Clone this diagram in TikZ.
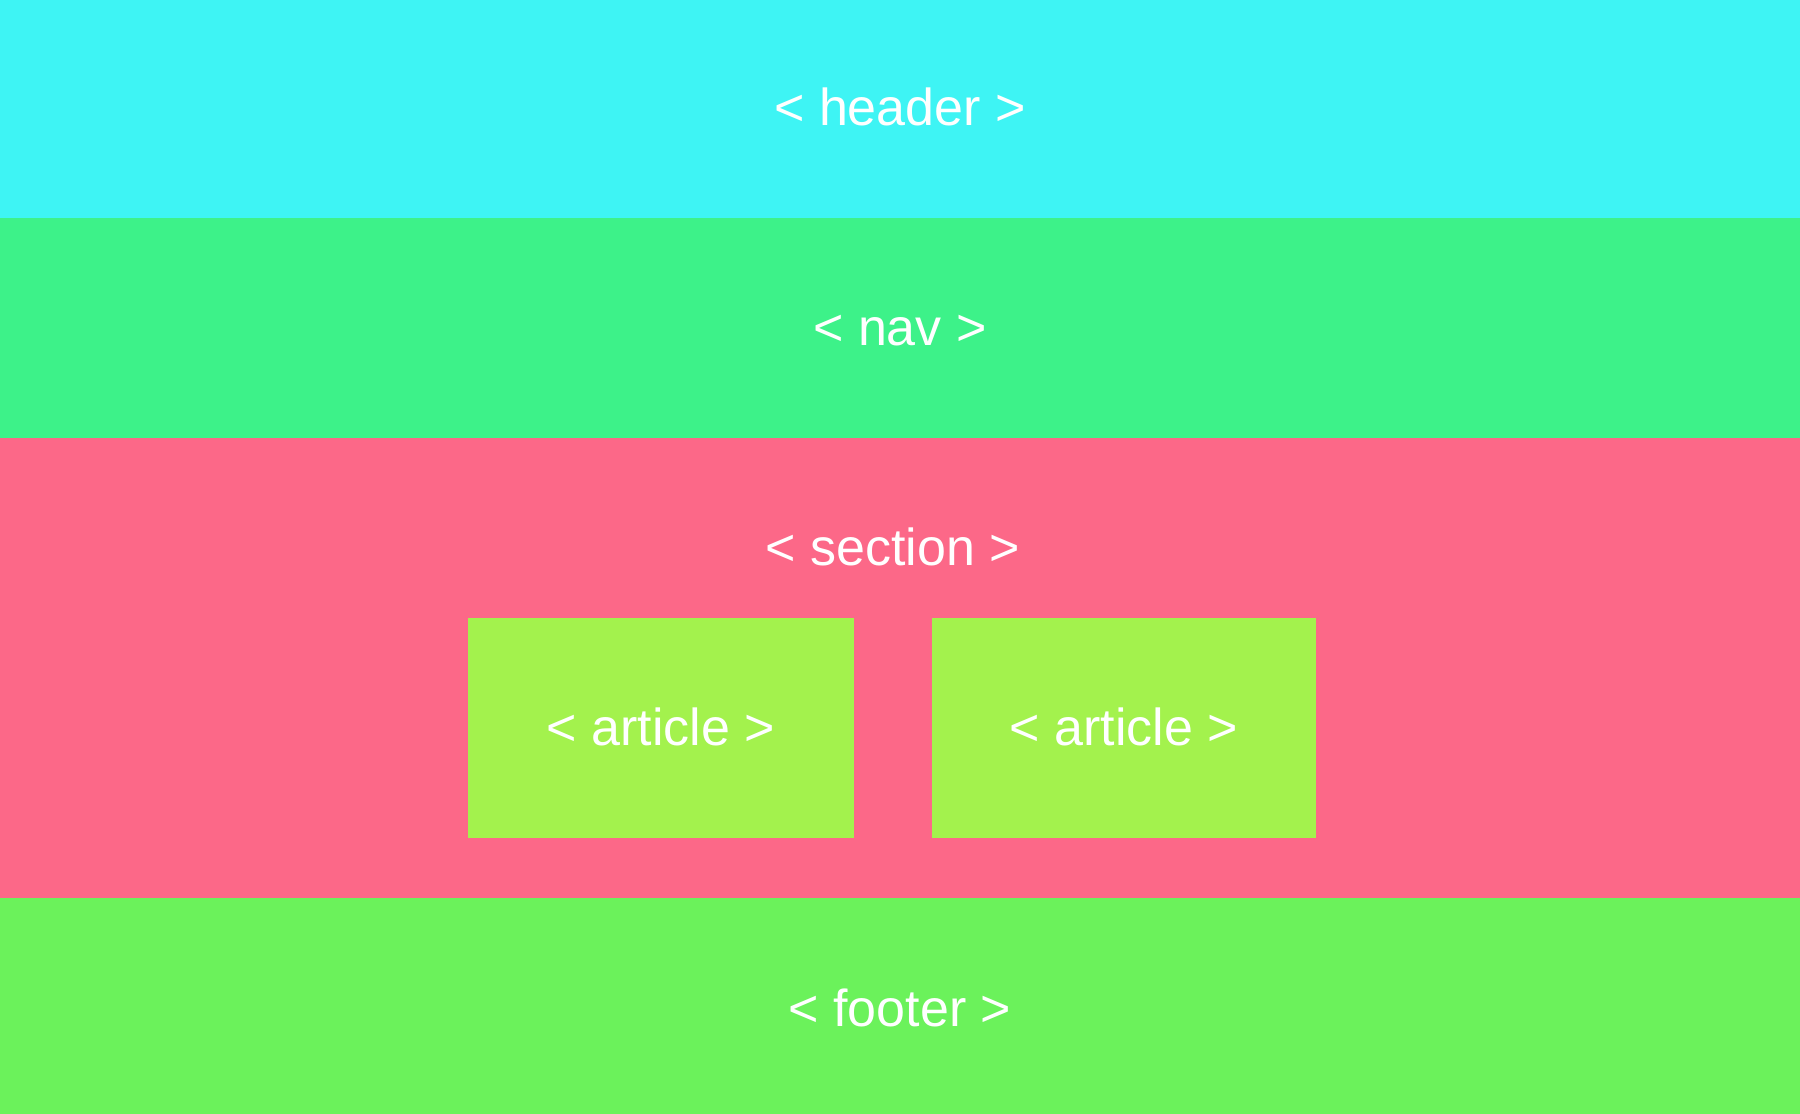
\documentclass[tikz,border=0pt]{standalone}
\usepackage{fontspec}
\setmainfont{Liberation Sans}
\definecolor{hdrc}{RGB}{62,244,244}
\definecolor{navc}{RGB}{61,242,137}
\definecolor{secc}{RGB}{252,104,136}
\definecolor{artc}{RGB}{163,242,77}
\definecolor{ftrc}{RGB}{107,242,91}
\tikzset{
  lbl/.style={anchor=base, inner sep=0pt, text=white, font=\fontsize{52}{60}\selectfont},
  band/.style={draw=none}
}
\begin{document}
\begin{tikzpicture}[x=1pt,y=-1pt]
\useasboundingbox (0,0) rectangle (1800,1114);
\fill[hdrc] (0,0) rectangle (1800,218);
\fill[navc] (0,218) rectangle (1800,438);
\fill[secc] (0,438) rectangle (1800,898);
\fill[ftrc] (0,898) rectangle (1800,1114);
\fill[artc] (468,618) rectangle (854,838);
\fill[artc] (932,618) rectangle (1316,838);
\node[lbl] (header) at (900,125) {< header >};
\node[lbl] (nav) at (900,345) {< nav >};
\node[lbl] (section) at (893,565) {< section >};
\node[lbl] (art1) at (661,745) {< article >};
\node[lbl] (art2) at (1124,745) {< article >};
\node[lbl] (footer) at (900,1026) {< footer >};
\end{tikzpicture}
\end{document}
